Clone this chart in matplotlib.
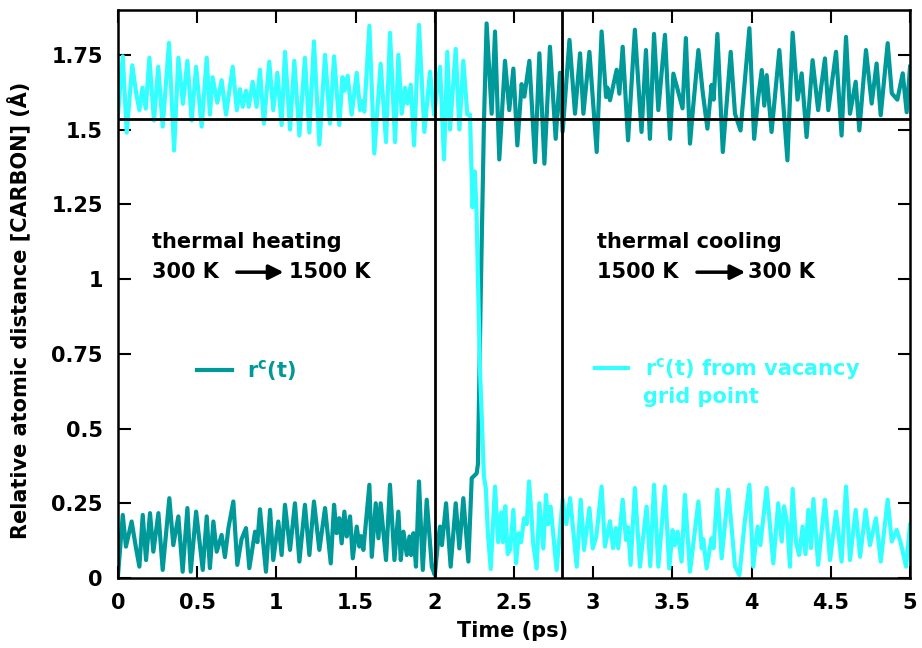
import matplotlib
matplotlib.use('Agg')
import matplotlib.pyplot as plt
from matplotlib.lines import Line2D

# carbon atom distance r^c(t) (teal) and distance from vacancy grid point (cyan)
teal_t = [0.0, 0.03, 0.05, 0.086, 0.114, 0.135, 0.156, 0.177, 0.202, 0.223, 0.255, 0.282, 0.324, 0.349,
          0.381, 0.408, 0.438, 0.459, 0.493, 0.535, 0.56, 0.58, 0.602, 0.623, 0.654, 0.675, 0.697, 0.728,
          0.753, 0.78, 0.808, 0.829, 0.865, 0.88, 0.896, 0.934, 0.96, 0.98, 1.012, 1.033, 1.054, 1.086,
          1.117, 1.145, 1.18, 1.208, 1.237, 1.271, 1.307, 1.343, 1.364, 1.38, 1.397, 1.412, 1.429, 1.444,
          1.465, 1.482, 1.507, 1.524, 1.535, 1.549, 1.587, 1.602, 1.627, 1.644, 1.658, 1.692, 1.717, 1.745,
          1.77, 1.785, 1.802, 1.823, 1.84, 1.85, 1.865, 1.881, 1.9, 1.924, 1.949, 1.981, 2.0, 2.02, 2.033,
          2.045, 2.071, 2.1, 2.132, 2.155, 2.18, 2.212, 2.233, 2.264, 2.272, 2.29, 2.31, 2.327, 2.359, 2.38,
          2.407, 2.443, 2.47, 2.496, 2.521, 2.548, 2.565, 2.597, 2.633, 2.66, 2.692, 2.727, 2.763, 2.79,
          2.807, 2.85, 2.885, 2.917, 2.938, 2.976, 3.022, 3.053, 3.081, 3.09, 3.106, 3.148, 3.165, 3.186,
          3.22, 3.263, 3.305, 3.333, 3.358, 3.384, 3.411, 3.453, 3.485, 3.506, 3.53, 3.564, 3.585, 3.611,
          3.63, 3.664, 3.691, 3.721, 3.747, 3.76, 3.784, 3.818, 3.868, 3.895, 3.93, 3.958, 3.986, 4.016,
          4.04, 4.064, 4.08, 4.095, 4.126, 4.175, 4.226, 4.259, 4.29, 4.316, 4.347, 4.385, 4.42, 4.463,
          4.484, 4.533, 4.568, 4.596, 4.621, 4.657, 4.68, 4.722, 4.758, 4.789, 4.815, 4.859, 4.885, 4.92,
          4.954, 4.979, 5.0]
teal_r = [0.01, 0.211, 0.105, 0.189, 0.099, 0.038, 0.211, 0.06, 0.217, 0.088, 0.217, 0.027, 0.267, 0.11,
          0.206, 0.021, 0.234, 0.021, 0.222, 0.027, 0.206, 0.033, 0.189, 0.088, 0.144, 0.07, 0.167, 0.256,
          0.044, 0.13, 0.167, 0.033, 0.155, 0.12, 0.23, 0.021, 0.228, 0.06, 0.189, 0.077, 0.245, 0.094,
          0.25, 0.055, 0.245, 0.077, 0.256, 0.094, 0.234, 0.049, 0.245, 0.15, 0.2, 0.116, 0.222, 0.139,
          0.206, 0.066, 0.172, 0.105, 0.14, 0.094, 0.312, 0.071, 0.25, 0.133, 0.25, 0.06, 0.312, 0.06,
          0.222, 0.06, 0.155, 0.077, 0.139, 0.077, 0.15, 0.038, 0.323, 0.027, 0.262, 0.038, 0.01, 0.12, 0.172,
          0.11, 0.25, 0.038, 0.25, 0.099, 0.267, 0.055, 0.334, 0.35, 0.38, 0.95, 1.52, 1.855, 1.553, 1.828,
          1.4, 1.73, 1.565, 1.704, 1.447, 1.652, 1.61, 1.73, 1.391, 1.755, 1.386, 1.777, 1.469, 1.69,
          1.493, 1.8, 1.553, 1.755, 1.553, 1.76, 1.425, 1.828, 1.609, 1.64, 1.598, 1.7, 1.62, 1.777,
          1.464, 1.834, 1.492, 1.766, 1.469, 1.82, 1.565, 1.817, 1.469, 1.687, 1.64, 1.571, 1.806, 1.453,
          1.57, 1.766, 1.626, 1.503, 1.649, 1.6, 1.82, 1.425, 1.76, 1.553, 1.497, 1.67, 1.839, 1.469,
          1.6, 1.699, 1.58, 1.682, 1.492, 1.766, 1.397, 1.824, 1.6, 1.688, 1.475, 1.732, 1.565, 1.738,
          1.565, 1.76, 1.48, 1.81, 1.553, 1.66, 1.497, 1.766, 1.587, 1.721, 1.548, 1.789, 1.621, 1.6,
          1.688, 1.558, 1.71]

cyan_t = [0.0, 0.03, 0.055, 0.09, 0.115, 0.135, 0.154, 0.175, 0.198, 0.227, 0.254, 0.282, 0.322, 0.354,
          0.381, 0.41, 0.438, 0.465, 0.493, 0.528, 0.56, 0.58, 0.597, 0.627, 0.654, 0.682, 0.724, 0.75,
          0.77, 0.787, 0.808, 0.825, 0.85, 0.875, 0.896, 0.921, 0.955, 0.98, 1.006, 1.033, 1.054, 1.086,
          1.113, 1.145, 1.18, 1.208, 1.237, 1.271, 1.307, 1.338, 1.364, 1.397, 1.417, 1.429, 1.45, 1.475,
          1.507, 1.528, 1.543, 1.555, 1.587, 1.618, 1.658, 1.692, 1.717, 1.749, 1.77, 1.791, 1.812, 1.827,
          1.848, 1.869, 1.9, 1.934, 1.97, 1.995, 2.033, 2.058, 2.079, 2.096, 2.132, 2.155, 2.18, 2.205,
          2.222, 2.238, 2.252, 2.262, 2.285, 2.31, 2.322, 2.335, 2.353, 2.38, 2.4, 2.42, 2.43, 2.445, 2.46,
          2.475, 2.496, 2.513, 2.53, 2.545, 2.563, 2.58, 2.595, 2.612, 2.62, 2.643, 2.66, 2.685, 2.702,
          2.715, 2.731, 2.769, 2.807, 2.83, 2.854, 2.896, 2.921, 2.942, 2.976, 2.997, 3.02, 3.053, 3.074,
          3.106, 3.125, 3.143, 3.158, 3.186, 3.207, 3.22, 3.236, 3.263, 3.295, 3.337, 3.36, 3.384, 3.411,
          3.453, 3.48, 3.501, 3.515, 3.533, 3.558, 3.579, 3.611, 3.664, 3.685, 3.695, 3.716, 3.747, 3.76,
          3.784, 3.811, 3.853, 3.865, 3.88, 3.895, 3.923, 3.958, 3.986, 4.01, 4.038, 4.055, 4.095, 4.137,
          4.168, 4.19, 4.205, 4.225, 4.242, 4.259, 4.28, 4.3, 4.322, 4.34, 4.358, 4.375, 4.39, 4.42, 4.463,
          4.495, 4.533, 4.568, 4.596, 4.621, 4.657, 4.685, 4.72, 4.747, 4.785, 4.815, 4.859, 4.885, 4.916,
          4.94, 4.975, 5.0]
cyan_r = [1.55, 1.745, 1.49, 1.715, 1.62, 1.565, 1.64, 1.57, 1.74, 1.53, 1.71, 1.51, 1.79, 1.43,
          1.74, 1.586, 1.73, 1.53, 1.71, 1.51, 1.74, 1.55, 1.675, 1.59, 1.665, 1.55, 1.71, 1.565,
          1.635, 1.576, 1.63, 1.576, 1.66, 1.576, 1.7, 1.52, 1.727, 1.565, 1.69, 1.515, 1.76, 1.5,
          1.73, 1.48, 1.74, 1.49, 1.795, 1.45, 1.75, 1.52, 1.745, 1.515, 1.675, 1.63, 1.68, 1.55,
          1.69, 1.565, 1.596, 1.56, 1.847, 1.42, 1.72, 1.458, 1.824, 1.458, 1.75, 1.553, 1.64, 1.587,
          1.65, 1.447, 1.85, 1.492, 1.694, 1.55, 1.71, 1.4, 1.76, 1.5, 1.77, 1.5, 1.73, 1.55,
          1.55, 1.24, 1.36, 1.25, 0.7, 0.34, 0.3, 0.15, 0.03, 0.306, 0.12, 0.22, 0.12, 0.24, 0.08,
          0.094, 0.228, 0.049, 0.15, 0.12, 0.2, 0.18, 0.323, 0.195, 0.12, 0.032, 0.25, 0.099, 0.278,
          0.18, 0.239, 0.027, 0.262, 0.18, 0.267, 0.038, 0.262, 0.094, 0.234, 0.099, 0.14, 0.306, 0.105,
          0.19, 0.1, 0.167, 0.099, 0.262, 0.127, 0.17, 0.044, 0.301, 0.038, 0.239, 0.04, 0.312, 0.038,
          0.306, 0.032, 0.16, 0.11, 0.155, 0.055, 0.278, 0.021, 0.256, 0.099, 0.13, 0.032, 0.133, 0.1,
          0.295, 0.066, 0.295, 0.22, 0.13, 0.038, 0.01, 0.194, 0.312, 0.038, 0.172, 0.11, 0.301, 0.049,
          0.25, 0.122, 0.24, 0.18, 0.038, 0.298, 0.12, 0.077, 0.172, 0.08, 0.228, 0.1, 0.264, 0.044, 0.262,
          0.06, 0.222, 0.055, 0.306, 0.06, 0.228, 0.071, 0.228, 0.11, 0.2, 0.055, 0.262, 0.122, 0.161,
          0.12, 0.038, 0.178]

xticks = [0, 0.5, 1, 1.5, 2, 2.5, 3, 3.5, 4, 4.5, 5]
xticklabels = ['0', '0.5', '1', '1.5', '2', '2.5', '3', '3.5', '4', '4.5', '5']
yticks = [0, 0.25, 0.5, 0.75, 1, 1.25, 1.5, 1.75]
yticklabels = ['0', '0.25', '0.5', '0.75', '1', '1.25', '1.5', '1.75']
phase_bounds = [2.0, 2.8]
bond_length = 1.535

TEAL = '#009999'
CYAN = '#33ffff'

plt.rcParams['font.family'] = 'DejaVu Sans'
plt.rcParams['font.weight'] = 'bold'
plt.rcParams['mathtext.fontset'] = 'dejavusans'
plt.rcParams['mathtext.default'] = 'bf'

fig = plt.figure(figsize=(9.22, 6.48), dpi=100)
ax = fig.add_axes([0.128, 0.108, 0.859, 0.8766])

l1, = ax.plot(teal_t, teal_r, color=TEAL, lw=3, solid_joinstyle='round')
l2, = ax.plot(cyan_t, cyan_r, color=CYAN, lw=3, solid_joinstyle='round')

for xb in phase_bounds:
    ax.axvline(xb, color='k', lw=2)
ax.axhline(bond_length, color='k', lw=2)

ax.set_xlim(0, 5)
ax.set_ylim(0, 1.9)
ax.set_xticks(xticks)
ax.set_xticklabels(xticklabels)
ax.set_yticks(yticks)
ax.set_yticklabels(yticklabels)
ax.tick_params(direction='in', length=9, width=1.5, top=True, right=True, labelsize=15, pad=11)
for s in ax.spines.values():
    s.set_linewidth(1.8)

fig.text(513 / 922, 0.026, 'Time (ps)', ha='center', va='center', fontsize=15)
fig.text(18 / 922, 0.5216, 'Relative atomic distance [CARBON] (Å)', rotation=90,
         ha='center', va='center', fontsize=15)

# annotations
ax.text(0.215, 1.124, 'thermal heating', fontsize=15, va='center')
ax.text(0.215, 1.023, '300 K', fontsize=15, va='center')
ax.annotate('', xy=(1.045, 1.023), xytext=(0.75, 1.023),
            arrowprops=dict(arrowstyle='-|>', lw=2.5, color='k', mutation_scale=22, shrinkA=0, shrinkB=0))
ax.text(1.08, 1.023, '1500 K', fontsize=15, va='center')

ax.text(3.024, 1.124, 'thermal cooling', fontsize=15, va='center')
ax.text(3.024, 1.023, '1500 K', fontsize=15, va='center')
ax.annotate('', xy=(3.96, 1.023), xytext=(3.655, 1.023),
            arrowprops=dict(arrowstyle='-|>', lw=2.5, color='k', mutation_scale=22, shrinkA=0, shrinkB=0))
ax.text(3.977, 1.023, '300 K', fontsize=15, va='center')

# legends
leg1 = ax.legend([l1], [r'r$^{c}$(t)'], loc='center left', bbox_to_anchor=(0.0997, 0.366),
                 frameon=False, handlelength=1.7, handletextpad=0.7, borderpad=0, borderaxespad=0,
                 labelcolor=TEAL, fontsize=15)
ax.add_artist(leg1)
ax.legend([l2], [r'r$^{c}$(t) from vacancy'], loc='center left', bbox_to_anchor=(0.602, 0.368),
          frameon=False, handlelength=1.6, handletextpad=0.8, borderpad=0, borderaxespad=0,
          labelcolor=CYAN, fontsize=15)
ax.text(3.314, 0.604, 'grid point', fontsize=15, va='center', color=CYAN)

plt.savefig('out.png', dpi=100)
